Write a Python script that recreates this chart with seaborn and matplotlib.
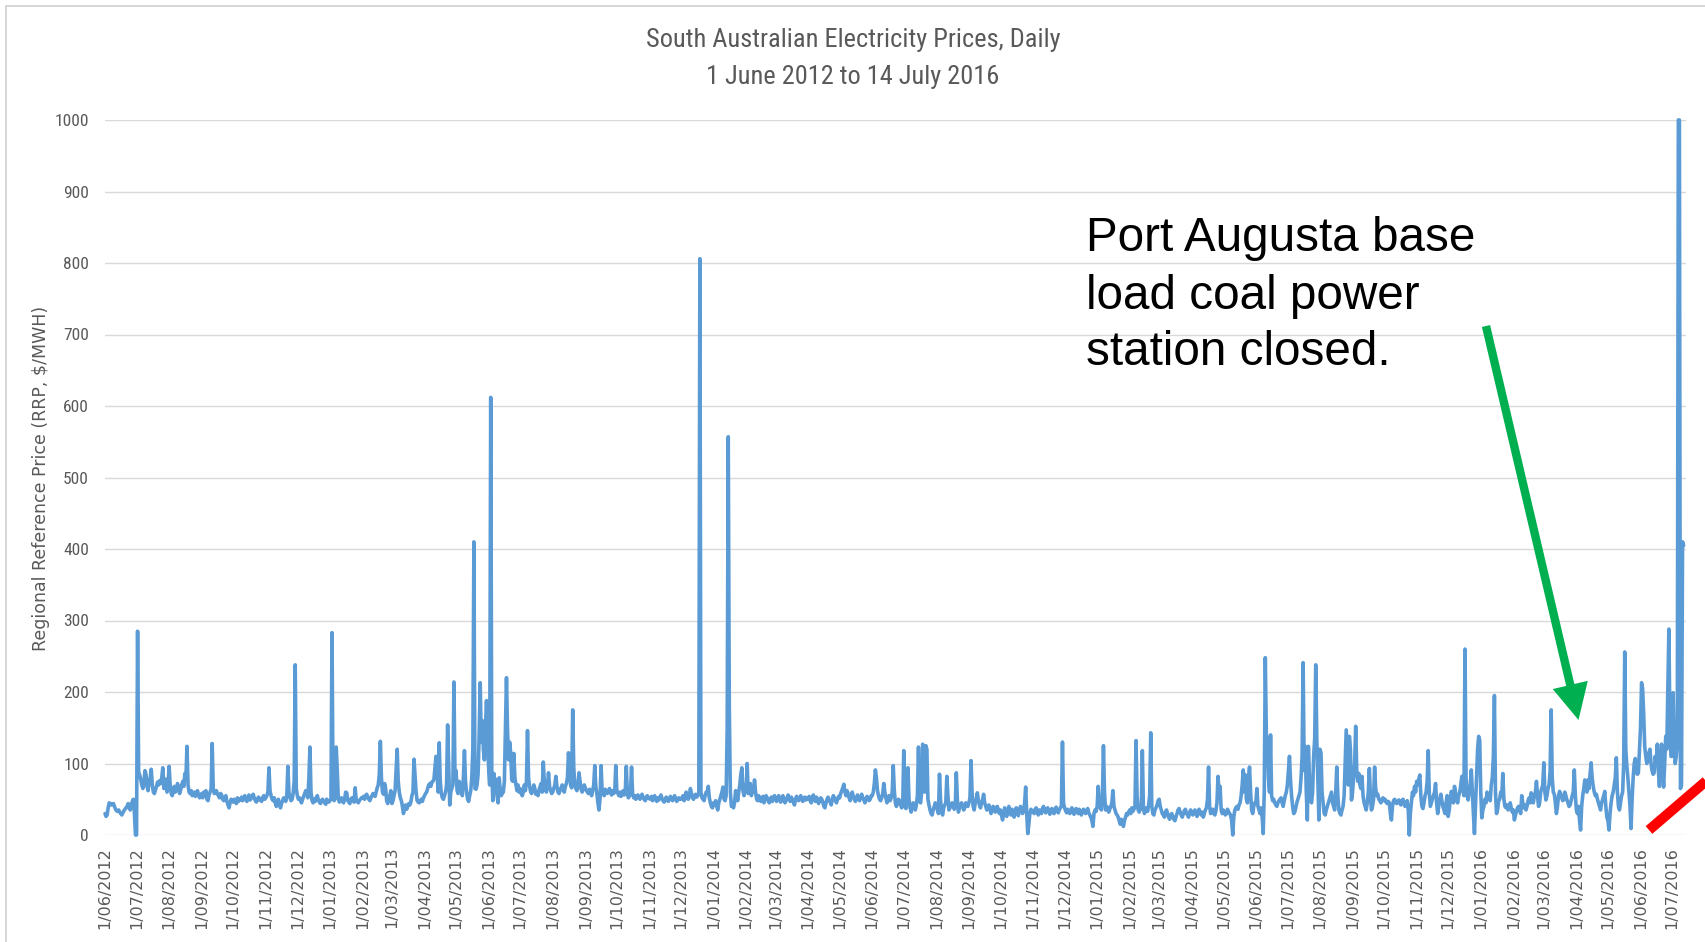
import numpy as np
import pandas as pd
import matplotlib
matplotlib.use("Agg")
import matplotlib.pyplot as plt
from matplotlib import font_manager
from matplotlib.lines import Line2D
from matplotlib.patches import Polygon, Rectangle
import seaborn as sns

# Daily regional reference price (RRP, $/MWh), one list per month, by year.
prices_2012 = [
    [30, 26, 28, 38, 45, 44, 42, 43, 44, 40, 36, 34, 33, 35, 32, 30, 28, 31, 34, 36, 38, 40, 44, 38, 35, 42, 47, 50, 30, 0],
    [0, 285, 88, 84, 78, 70, 65, 72, 90, 85, 68, 62, 75, 80, 92, 70, 60, 58, 63, 68, 74, 70, 76, 72, 80, 94, 65, 70, 78, 60, 72],
    [96, 70, 58, 55, 62, 68, 60, 64, 72, 66, 58, 63, 70, 75, 68, 86, 80, 124, 70, 60, 58, 62, 55, 57, 60, 54, 58, 62, 56, 52, 55],
    [58, 52, 60, 55, 62, 50, 48, 56, 60, 65, 128, 64, 58, 60, 62, 57, 55, 52, 58, 56, 50, 48, 52, 55, 47, 42, 38, 45, 50, 48],
    [46, 50, 48, 44, 52, 47, 50, 49, 53, 48, 51, 55, 50, 47, 52, 56, 49, 51, 54, 57, 52, 48, 46, 50, 53, 49, 51, 47, 52, 55, 50],
    [52, 55, 60, 94, 62, 55, 50, 48, 52, 45, 40, 46, 50, 42, 38, 44, 48, 52, 50, 47, 55, 96, 60, 52, 48, 50, 58, 75, 238, 65],
    [55, 50, 52, 48, 45, 50, 54, 58, 62, 58, 52, 80, 123, 60, 48, 45, 50, 47, 52, 55, 49, 46, 44, 48, 50, 47, 45, 43, 50, 48, 46],
]
prices_2013 = [
    [48, 50, 283, 60, 48, 52, 123, 90, 50, 46, 48, 52, 47, 45, 50, 60, 59, 48, 46, 44, 50, 52, 48, 46, 66, 50, 47, 45, 48, 50, 52],
    [52, 54, 50, 55, 57, 53, 50, 48, 52, 55, 58, 56, 54, 60, 66, 70, 85, 131, 80, 60, 57, 72, 65, 48, 44, 50, 55, 62],
    [44, 48, 55, 62, 90, 120, 75, 60, 52, 48, 40, 30, 38, 42, 36, 40, 44, 42, 46, 55, 60, 106, 82, 60, 48, 46, 45, 48, 50, 47, 52],
    [55, 58, 60, 65, 70, 72, 68, 74, 75, 78, 95, 110, 85, 60, 129, 75, 58, 52, 50, 55, 60, 70, 154, 95, 42, 60, 65, 70, 214, 80],
    [90, 62, 58, 75, 70, 62, 55, 80, 118, 75, 60, 50, 47, 55, 62, 80, 120, 410, 65, 64, 70, 85, 140, 213, 130, 160, 120, 105, 150, 188, 130],
    [95, 70, 612, 92, 48, 86, 60, 78, 55, 45, 80, 65, 55, 58, 60, 75, 150, 220, 147, 105, 130, 115, 77, 75, 114, 80, 70, 62, 70, 60],
    [65, 58, 55, 60, 70, 62, 75, 146, 80, 68, 60, 58, 62, 70, 65, 57, 60, 55, 63, 68, 72, 60, 102, 75, 64, 60, 70, 87, 68, 62, 58],
    [60, 65, 70, 82, 68, 60, 58, 64, 66, 70, 62, 60, 68, 72, 80, 115, 90, 70, 66, 175, 95, 70, 65, 62, 70, 87, 75, 64, 60, 66, 70],
    [66, 62, 60, 58, 64, 60, 55, 62, 70, 97, 68, 58, 45, 35, 50, 97, 62, 58, 55, 64, 60, 58, 62, 65, 60, 56, 62, 58, 60, 97],
    [62, 58, 55, 60, 54, 58, 62, 56, 60, 96, 58, 52, 55, 60, 95, 57, 52, 55, 50, 53, 56, 52, 50, 54, 57, 52, 50, 48, 53, 55, 51],
    [52, 50, 54, 48, 51, 55, 50, 47, 52, 49, 53, 56, 51, 48, 46, 50, 53, 49, 47, 51, 54, 50, 48, 52, 55, 50, 47, 49, 52, 50],
    [50, 52, 55, 48, 51, 60, 52, 50, 54, 65, 58, 52, 50, 55, 57, 53, 55, 58, 806, 60, 52, 50, 48, 55, 60, 58, 68, 52, 45, 40, 38],
]
prices_2014 = [
    [45, 42, 48, 40, 35, 45, 50, 55, 60, 67, 50, 48, 55, 150, 557, 180, 60, 40, 42, 38, 45, 62, 55, 48, 60, 70, 85, 94, 62, 55, 70],
    [60, 100, 58, 65, 72, 55, 62, 60, 77, 60, 50, 48, 55, 52, 47, 50, 54, 45, 50, 55, 52, 48, 45, 50, 53, 47, 52, 55],
    [50, 47, 52, 55, 49, 46, 51, 55, 50, 45, 48, 52, 56, 50, 47, 53, 50, 46, 42, 50, 54, 51, 48, 52, 55, 50, 47, 51, 53, 49, 52],
    [50, 54, 48, 45, 52, 56, 50, 47, 53, 49, 44, 48, 52, 50, 46, 40, 38, 45, 50, 53, 48, 46, 42, 50, 55, 52, 48, 45, 50, 54],
    [52, 58, 62, 66, 71, 60, 55, 62, 58, 52, 48, 55, 60, 54, 50, 47, 52, 56, 50, 48, 53, 57, 52, 49, 45, 50, 54, 52, 48, 50, 55],
    [55, 60, 72, 91, 80, 62, 55, 50, 48, 52, 58, 72, 60, 52, 45, 50, 55, 48, 52, 60, 97, 62, 45, 40, 44, 50, 48, 42, 38, 40],
    [118, 45, 37, 60, 94, 50, 38, 32, 40, 45, 38, 35, 42, 55, 123, 50, 45, 60, 127, 90, 60, 125, 120, 50, 42, 35, 30, 28, 35, 40, 45],
    [40, 35, 30, 85, 50, 32, 28, 38, 42, 45, 82, 55, 35, 38, 40, 45, 42, 36, 40, 87, 50, 32, 38, 42, 45, 40, 35, 38, 45, 42, 40],
    [45, 52, 104, 60, 40, 35, 45, 50, 59, 48, 42, 38, 45, 50, 57, 45, 40, 35, 38, 42, 36, 30, 35, 40, 38, 32, 36, 40, 35, 30],
    [35, 28, 21, 30, 38, 32, 26, 35, 40, 33, 28, 36, 30, 25, 34, 38, 31, 27, 35, 40, 36, 30, 33, 45, 67, 30, 2, 15, 30, 36, 32],
    [34, 30, 36, 38, 32, 28, 35, 33, 30, 37, 40, 34, 31, 36, 38, 33, 29, 35, 37, 32, 30, 36, 39, 34, 31, 35, 38, 40, 130, 45],
    [38, 34, 31, 36, 33, 30, 35, 38, 32, 29, 34, 37, 33, 30, 36, 31, 28, 33, 36, 32, 30, 34, 37, 31, 28, 25, 20, 12, 30, 35, 33],
]
prices_2015 = [
    [40, 68, 45, 38, 35, 50, 125, 60, 35, 40, 38, 32, 36, 40, 45, 62, 40, 35, 30, 28, 25, 20, 15, 22, 18, 12, 20, 25, 30, 28, 32],
    [35, 30, 38, 33, 36, 40, 132, 55, 35, 32, 38, 36, 118, 40, 30, 35, 38, 33, 42, 55, 143, 40, 30, 28, 35, 38, 42, 48],
    [50, 40, 35, 30, 28, 25, 32, 35, 30, 25, 22, 28, 30, 26, 22, 20, 25, 30, 35, 37, 32, 28, 25, 30, 34, 36, 30, 28, 25, 32, 35],
    [30, 28, 32, 35, 30, 26, 33, 36, 30, 28, 32, 25, 30, 35, 38, 50, 95, 40, 30, 33, 36, 30, 28, 34, 45, 82, 60, 68, 35, 30],
    [35, 32, 28, 30, 36, 33, 30, 28, 20, 0, 25, 35, 38, 40, 36, 42, 45, 55, 70, 91, 60, 84, 50, 45, 80, 95, 60, 35, 30, 40, 45],
    [45, 65, 40, 35, 30, 38, 25, 2, 60, 248, 140, 130, 80, 60, 140, 55, 48, 50, 45, 42, 40, 45, 48, 50, 52, 45, 40, 48, 55, 60],
    [70, 90, 110, 77, 55, 40, 30, 32, 38, 45, 50, 55, 60, 80, 110, 241, 90, 124, 60, 21, 124, 80, 50, 45, 60, 110, 135, 238, 135, 80, 21],
    [120, 115, 60, 45, 30, 28, 35, 40, 45, 50, 55, 60, 45, 40, 35, 60, 95, 55, 35, 30, 28, 35, 40, 55, 100, 147, 110, 70, 138, 120, 49],
    [60, 80, 100, 152, 90, 75, 86, 70, 65, 82, 55, 45, 40, 35, 45, 60, 93, 55, 35, 40, 50, 95, 65, 55, 57, 50, 48, 45, 50, 52],
    [48, 50, 46, 44, 47, 45, 30, 21, 40, 48, 50, 47, 44, 46, 49, 45, 42, 48, 50, 44, 40, 45, 48, 35, 0, 30, 45, 60, 55, 68, 60],
    [75, 70, 78, 84, 55, 40, 37, 45, 55, 60, 75, 118, 60, 40, 45, 50, 55, 60, 72, 45, 30, 40, 50, 57, 48, 40, 35, 30, 45, 55],
    [26, 35, 50, 61, 55, 45, 68, 60, 50, 45, 55, 60, 70, 82, 65, 55, 260, 80, 55, 49, 60, 70, 91, 60, 30, 2, 40, 80, 120, 138, 133],
]
prices_2016 = [
    [60, 24, 35, 40, 50, 45, 60, 55, 50, 48, 70, 80, 110, 195, 60, 30, 35, 48, 50, 60, 55, 86, 50, 40, 38, 42, 35, 40, 45, 38, 32],
    [35, 21, 28, 33, 38, 40, 35, 30, 55, 45, 38, 42, 35, 40, 48, 52, 45, 59, 50, 45, 55, 60, 75, 55, 40, 45, 60, 65, 70],
    [101, 60, 49, 55, 65, 70, 90, 175, 80, 60, 57, 45, 30, 40, 55, 61, 58, 52, 48, 50, 60, 55, 49, 45, 40, 42, 48, 55, 60, 91, 55],
    [35, 30, 40, 20, 7, 40, 55, 65, 77, 70, 60, 77, 65, 85, 101, 80, 68, 60, 55, 57, 50, 45, 40, 35, 45, 50, 55, 61, 40, 25],
    [20, 7, 30, 45, 55, 60, 70, 80, 108, 60, 40, 35, 45, 55, 60, 100, 256, 120, 96, 80, 60, 40, 9, 50, 80, 100, 107, 90, 85, 87, 120],
    [150, 213, 205, 170, 124, 110, 100, 105, 115, 120, 100, 90, 85, 87, 110, 100, 127, 90, 68, 100, 127, 90, 67, 100, 138, 120, 200, 288, 150, 110],
    [110, 199, 130, 100, 110, 130, 1000, 1000, 65, 70, 410, 405],
]
first_months = {2012: 6, 2013: 1, 2014: 1, 2015: 1, 2016: 1}

title_lines = ["South Australian Electricity Prices, Daily", "1 June 2012 to 14 July 2016"]
y_label = "Regional Reference Price (RRP, $/MWH)"
note_lines = ["Port Augusta base", "load coal power", "station closed."]
y_ticks = list(range(0, 1001, 100))
x_start, x_end = "2012-06-01", "2016-07-14"

# Assemble the daily series
frames = []
for year, months in [(2012, prices_2012), (2013, prices_2013), (2014, prices_2014),
                     (2015, prices_2015), (2016, prices_2016)]:
    for k, vals in enumerate(months):
        m = first_months[year] + k
        dates = pd.date_range(f"{year}-{m:02d}-01", periods=len(vals), freq="D")
        frames.append(pd.DataFrame({"date": dates, "price": vals}))
df = pd.concat(frames, ignore_index=True)


def pick(*names):
    for n in names:
        try:
            font_manager.findfont(font_manager.FontProperties(family=n),
                                  fallback_to_default=False)
            return n
        except Exception:
            continue
    return "DejaVu Sans"


sns.set_style("white")
narrow = pick("Liberation Sans Narrow", "Roboto Condensed", "Lato")
arial = pick("Liberation Sans", "Arial")
plt.rcParams["font.family"] = [narrow, "DejaVu Sans"]

W, H = 1705, 942
fig = plt.figure(figsize=(W / 100, H / 100), dpi=100, facecolor="white")


def fx(px):
    return px / W


def fy(py):
    return 1 - py / H


left, right, top, bottom = 105, 1685.7, 120, 835
ax = fig.add_axes([fx(left), fy(bottom), fx(right - left), (bottom - top) / H])

sns.lineplot(data=df, x="date", y="price", ax=ax, color="#5B9BD5",
             linewidth=2.6, clip_on=False, zorder=3)

ax.set_xlim(pd.Timestamp(x_start), pd.Timestamp(x_end))
ax.set_ylim(0, 1000)
ax.set_yticks(y_ticks)
ax.set_yticklabels([str(v) for v in y_ticks], fontsize=12.5, color="#595959",
                   family=narrow)
ticks = pd.date_range(x_start, "2016-07-01", freq="MS")
ax.set_xticks(ticks)
ax.set_xticklabels([f"{d.day}/{d.month:02d}/{d.year}" for d in ticks],
                   rotation=90, fontsize=11.5, color="#595959", family="DejaVu Sans")
ax.tick_params(axis="both", length=0)
ax.tick_params(axis="y", pad=11.5)
ax.tick_params(axis="x", pad=8.5)
ax.grid(axis="y", color="#D9D9D9", linewidth=1.0)
ax.grid(axis="x", visible=False)
ax.set_axisbelow(True)
for s in ax.spines.values():
    s.set_visible(False)
ax.set_xlabel("")
ax.set_ylabel("")

# Titles and axis label
fig.text(fx(853), fy(40), title_lines[0], ha="center", va="center",
         fontsize=19, color="#595959", family=narrow)
fig.text(fx(853), fy(77), title_lines[1], ha="center", va="center",
         fontsize=19, color="#595959", family=narrow)
fig.text(fx(41), fy(478), y_label, rotation=90, ha="center", va="center",
         fontsize=12.5, color="#595959", family="DejaVu Sans")

# Call-out text
for line, base in zip(note_lines, [251, 309, 365]):
    fig.text(fx(1086), fy(base), line, ha="left", va="baseline",
             fontsize=34.3, color="black", family=arial)

# Green arrow pointing at the closure date
tail = np.array([1486.0, 326.0])
tip = np.array([1578.5, 720.0])
u = (tip - tail) / np.linalg.norm(tip - tail)
n = np.array([u[1], -u[0]])
head_len, shaft_hw, head_hw = 36.0, 4.2, 18.0
base = tip - head_len * u
pts = [tail + shaft_hw * n, base + shaft_hw * n, base + head_hw * n, tip,
       base - head_hw * n, base - shaft_hw * n, tail - shaft_hw * n]
fig.patches.append(Polygon([(fx(p[0]), fy(p[1])) for p in pts], closed=True,
                           transform=fig.transFigure, facecolor="#00B050",
                           edgecolor="none", zorder=5))

# Red trend stroke in the lower right corner
r0 = np.array([1649.0, 830.0])
rdir = np.array([56.0, -48.0]) / np.hypot(56.0, -48.0)
r1 = r0 + 160 * rdir
fig.lines.append(Line2D([fx(r0[0]), fx(r1[0])], [fy(r0[1]), fy(r1[1])],
                        transform=fig.transFigure, color="#FF0000",
                        linewidth=7.3, solid_capstyle="butt", zorder=5))

# Chart frame
fig.patches.append(Rectangle((fx(5.5), -0.1), 1.2, fy(5.5) + 0.1, fill=False,
                             edgecolor="#D0D0D0", linewidth=1.2,
                             transform=fig.transFigure, zorder=0))

fig.savefig("out.png", dpi=100, facecolor="white")
